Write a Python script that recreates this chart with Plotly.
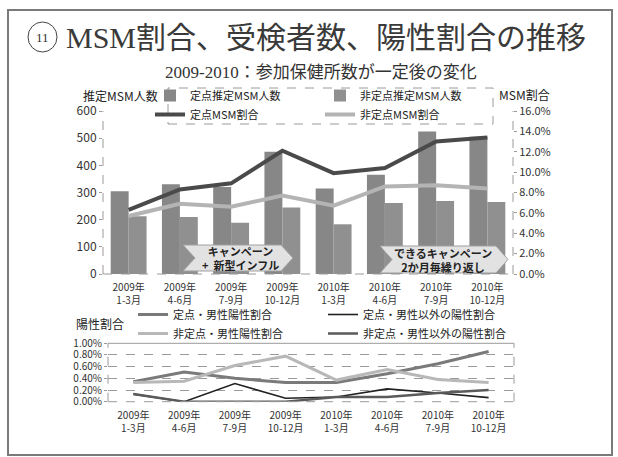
import plotly.graph_objects as go

# ---- data ----
periods = ["2009年<br>1-3月", "2009年<br>4-6月", "2009年<br>7-9月", "2009年<br>10-12月",
           "2010年<br>1-3月", "2010年<br>4-6月", "2010年<br>7-9月", "2010年<br>10-12月"]

teiten_msm_n = [305, 330, 320, 450, 315, 365, 525, 505]        # 定点推定MSM人数
hiteiten_msm_n = [213, 210, 189, 245, 183, 261, 269, 265]      # 非定点推定MSM人数
teiten_msm_pct = [6.3, 8.3, 8.9, 12.1, 9.9, 10.4, 13.0, 13.4]  # 定点MSM割合 (%)
hiteiten_msm_pct = [5.7, 6.9, 6.6, 7.7, 6.7, 8.6, 8.7, 8.4]    # 非定点MSM割合 (%)

teiten_male_pos = [0.34, 0.51, 0.40, 0.33, 0.33, 0.48, 0.65, 0.86]     # 定点・男性陽性割合 (%)
hiteiten_male_pos = [0.33, 0.35, 0.62, 0.78, 0.37, 0.55, 0.38, 0.33]   # 非定点・男性陽性割合 (%)
teiten_other_pos = [0.13, 0.00, 0.31, 0.06, 0.08, 0.22, 0.15, 0.07]    # 定点・男性以外の陽性割合 (%)
hiteiten_other_pos = [0.13, 0.00, 0.00, 0.00, 0.08, 0.08, 0.15, 0.20]  # 非定点・男性以外の陽性割合 (%)

idx = list(range(len(periods)))

# ---- page geometry helpers (pixels -> paper) ----
FIG_W, FIG_H = 618, 457
ML, MR = 69, 69
GW = FIG_W - ML - MR


def px(x):
    return (x - ML) / GW


def py(y):
    return 1 - y / FIG_H


JP = "Noto Sans CJK JP"
SERIF_JP = "Liberation Serif, Noto Sans CJK JP"
TXT = "#333333"

fig = go.Figure()

# upper chart: bars + ratio lines
fig.add_trace(go.Bar(x=idx, y=teiten_msm_n, name="定点推定MSM人数",
                     marker=dict(color="#878787", line=dict(width=0)),
                     xaxis="x", yaxis="y", legend="legend"))
fig.add_trace(go.Bar(x=idx, y=hiteiten_msm_n, name="非定点推定MSM人数",
                     marker=dict(color="#909090", line=dict(width=0)),
                     xaxis="x", yaxis="y", legend="legend"))
fig.add_trace(go.Scatter(x=idx, y=teiten_msm_pct, name="定点MSM割合", mode="lines",
                         line=dict(color="#4a4a4a", width=4),
                         xaxis="x", yaxis="y2", legend="legend"))
fig.add_trace(go.Scatter(x=idx, y=hiteiten_msm_pct, name="非定点MSM割合", mode="lines",
                         line=dict(color="#b4b4b4", width=4),
                         xaxis="x", yaxis="y2", legend="legend"))

# lower chart: positivity rates
fig.add_trace(go.Scatter(x=idx, y=teiten_male_pos, name="定点・男性陽性割合", mode="lines",
                         line=dict(color="#7a7a7a", width=3),
                         xaxis="x2", yaxis="y3", legend="legend2"))
fig.add_trace(go.Scatter(x=idx, y=teiten_other_pos, name="定点・男性以外の陽性割合", mode="lines",
                         line=dict(color="#222222", width=1.6),
                         xaxis="x2", yaxis="y3", legend="legend2"))
fig.add_trace(go.Scatter(x=idx, y=hiteiten_male_pos, name="非定点・男性陽性割合", mode="lines",
                         line=dict(color="#b8b8b8", width=3),
                         xaxis="x2", yaxis="y3", legend="legend2"))
fig.add_trace(go.Scatter(x=idx, y=hiteiten_other_pos, name="非定点・男性以外の陽性割合", mode="lines",
                         line=dict(color="#5a5a5a", width=2.5),
                         xaxis="x2", yaxis="y3", legend="legend2"))

axis_font = dict(family=JP, size=12, color=TXT)
small_font = dict(family=JP, size=10, color=TXT)

shapes = []
dash_line = dict(color="#9a9a9a", width=1, dash="dash")

# slide frame
shapes.append(dict(type="rect", xref="paper", yref="paper",
                   x0=px(8), x1=px(612), y0=py(455), y1=py(10),
                   line=dict(color="#7a7a7a", width=2), layer="below"))
# numbered circle
shapes.append(dict(type="circle", xref="paper", yref="paper",
                   x0=px(28), x1=px(57), y0=py(52), y1=py(22),
                   line=dict(color="#444444", width=1)))
# upper chart frame lines
for x in (103, 513):
    shapes.append(dict(type="line", xref="paper", yref="paper",
                       x0=px(x), x1=px(x), y0=py(274), y1=py(111), line=dash_line))
shapes.append(dict(type="line", xref="paper", yref="paper",
                   x0=px(103), x1=px(513), y0=py(274), y1=py(274), line=dash_line))
# upper legend box
shapes.append(dict(type="rect", xref="paper", yref="paper",
                   x0=px(168), x1=px(493), y0=py(124), y1=py(88),
                   line=dict(color="#9a9a9a", width=1, dash="dash")))
# lower chart frame lines
for x in (108, 514):
    shapes.append(dict(type="line", xref="paper", yref="paper",
                       x0=px(x), x1=px(x), y0=py(401.7), y1=py(343.3), line=dash_line))
shapes.append(dict(type="line", xref="paper", yref="paper",
                   x0=px(108), x1=px(514), y0=py(401.7), y1=py(401.7), line=dash_line))
shapes.append(dict(type="line", xref="paper", yref="paper",
                   x0=px(108), x1=px(514), y0=py(343.3), y1=py(343.3),
                   line=dict(color="#9a9a9a", width=1)))


def chevron(x0, x1, y0, y1, notch=12):
    ym = (y0 + y1) / 2
    pts = [(x0, y0), (x1 - notch, y0), (x1, ym), (x1 - notch, y1), (x0, y1), (x0 + notch, ym)]
    path = "M " + " L ".join(f"{px(a):.5f},{py(b):.5f}" for a, b in pts) + " Z"
    return dict(type="path", xref="paper", yref="paper", path=path,
                fillcolor="#e2e2e2", line=dict(color="#a0a0a0", width=1), layer="above")


shapes.append(chevron(183, 293, 245, 271))
shapes.append(chevron(380, 508, 246, 273))


def label(text, x, y, font):
    return dict(text=text, x=px(x), y=py(y), xref="paper", yref="paper", showarrow=False,
                xanchor="center", yanchor="middle", font=font)


annotations = [
    label("11", 42.5, 37, dict(family="Liberation Serif", size=13, color="#333")),
    label("MSM割合、受検者数、陽性割合の推移", 326, 37,
          dict(family=SERIF_JP, size=30, color="#3a3a3a")),
    label("2009-2010：参加保健所数が一定後の変化", 321, 72,
          dict(family=SERIF_JP, size=17, color="#333")),
    label("推定MSM人数", 120, 96, dict(family=JP, size=12, color="#222")),
    label("MSM割合", 524, 95, dict(family=JP, size=12, color="#222")),
    label("陽性割合", 100, 323, dict(family=JP, size=12, color="#222")),
    label("キャンペーン<br>+  新型インフル", 240, 258,
          dict(family=JP, size=11, color="#222", weight="bold")),
    label("できるキャンペーン<br>2か月毎繰り返し", 443, 259.5,
          dict(family=JP, size=11, color="#222", weight="bold")),
]

fig.update_layout(
    width=FIG_W, height=FIG_H,
    margin=dict(l=ML, r=MR, t=0, b=0, autoexpand=False),
    paper_bgcolor="white", plot_bgcolor="rgba(0,0,0,0)",
    barmode="group", bargap=0.30, bargroupgap=0,
    font=dict(family=JP, color=TXT),
    xaxis=dict(domain=[px(103), px(513)], anchor="y", range=[-0.5, 7.5],
               tickmode="array", tickvals=idx, ticktext=periods, tickfont=small_font,
               showgrid=False, zeroline=False, showline=False, ticks="outside",
               ticklen=4, tickcolor="rgba(0,0,0,0)", automargin=False),
    yaxis=dict(domain=[py(274), py(111)], anchor="x", range=[0, 600], dtick=100,
               tickfont=axis_font, showgrid=False, zeroline=False, showline=False,
               ticks="outside", ticklen=3, tickcolor="#9a9a9a", automargin=False),
    yaxis2=dict(overlaying="y", side="right", anchor="x", range=[0, 16], dtick=2,
                tickformat=".1f", ticksuffix="%", tickfont=dict(family=JP, size=11, color=TXT),
                showgrid=False, zeroline=False, showline=False,
                ticks="outside", ticklen=3, tickcolor="#9a9a9a", automargin=False),
    xaxis2=dict(domain=[px(108), px(514)], anchor="y3", range=[-0.5, 7.5],
                tickmode="array", tickvals=idx, ticktext=periods, tickfont=small_font,
                showgrid=False, zeroline=False, showline=False, ticks="outside",
                ticklen=4, tickcolor="rgba(0,0,0,0)", automargin=False),
    yaxis3=dict(domain=[py(401.7), py(343.3)], anchor="x2", range=[0, 1], dtick=0.2,
                tickformat=".2f", ticksuffix="%", tickfont=dict(family=JP, size=10, color=TXT),
                showgrid=True, gridcolor="#9a9a9a", griddash="dash", gridwidth=1,
                zeroline=False, showline=False, ticks="outside", ticklen=3, tickcolor="#9a9a9a",
                automargin=False),
    legend=dict(x=px(150), y=py(81), xanchor="left", yanchor="top", orientation="h",
                entrywidth=125, bgcolor="rgba(0,0,0,0)",
                font=dict(family=JP, size=11, color="#222"), traceorder="normal"),
    legend2=dict(x=px(133), y=py(300), xanchor="left", yanchor="top", orientation="h",
                 entrywidth=145, bgcolor="rgba(0,0,0,0)",
                 font=dict(family=JP, size=11, color="#222"), traceorder="normal"),
    shapes=shapes,
    annotations=annotations,
    showlegend=True,
)

fig.write_html("out.html")
